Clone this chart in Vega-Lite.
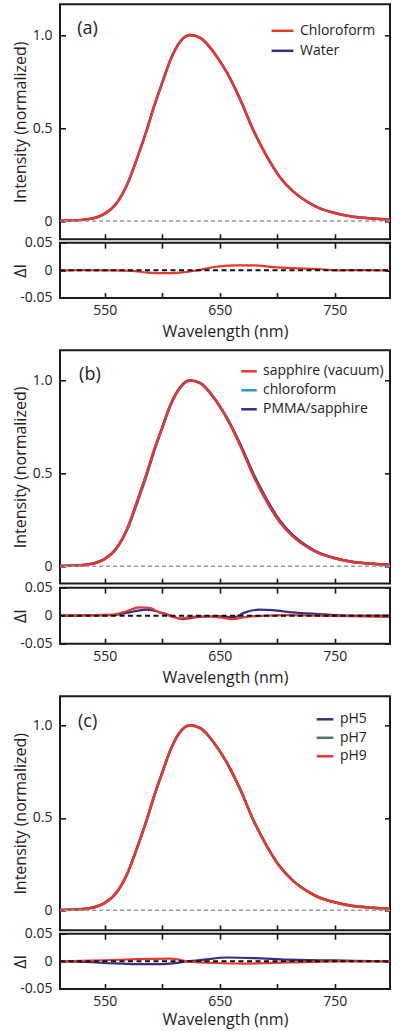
{
"$schema": "https://vega.github.io/schema/vega-lite/v6.json",
"padding": {"left": 11, "top": 3.3, "right": 4, "bottom": 2},
"config": {
  "font": "Open Sans",
  "view": {"stroke": "#1a1a1a", "strokeWidth": 2},
  "axis": {"domain": false, "grid": false, "tickColor": "#1a1a1a", "tickWidth": 1.6, "tickSize": 5.5, "offset": -5.5, "labelFontSize": 14, "labelColor": "#222", "titleFontSize": 16, "titleFontWeight": "normal", "titleColor": "#222", "labelPadding": 8},
  "legend": {"labelFontSize": 14, "labelColor": "#222", "symbolType": "stroke", "symbolStrokeWidth": 2.5, "rowPadding": 0, "padding": 0, "labelOffset": 5}
},
"resolve": {"scale": {"color": "independent"}, "legend": {"color": "independent"}},
"datasets": {
  "one": [{}],
  "mainA": [
    {"wl":510,"I":0.002,"s":"Water"},{"wl":520,"I":0.003,"s":"Water"},{"wl":530,"I":0.006,"s":"Water"},{"wl":540,"I":0.015,"s":"Water"},{"wl":550,"I":0.04,"s":"Water"},{"wl":560,"I":0.095,"s":"Water"},{"wl":570,"I":0.205,"s":"Water"},{"wl":578,"I":0.337,"s":"Water"},{"wl":587,"I":0.5,"s":"Water"},{"wl":593,"I":0.62,"s":"Water"},{"wl":600,"I":0.745,"s":"Water"},{"wl":607,"I":0.866,"s":"Water"},{"wl":615,"I":0.96,"s":"Water"},{"wl":624,"I":1.0,"s":"Water"},{"wl":633,"I":0.985,"s":"Water"},{"wl":645,"I":0.905,"s":"Water"},{"wl":656,"I":0.8,"s":"Water"},{"wl":668,"I":0.65,"s":"Water"},{"wl":679,"I":0.49,"s":"Water"},{"wl":691,"I":0.346,"s":"Water"},{"wl":702,"I":0.238,"s":"Water"},{"wl":714,"I":0.158,"s":"Water"},{"wl":726,"I":0.104,"s":"Water"},{"wl":737,"I":0.068,"s":"Water"},{"wl":749,"I":0.045,"s":"Water"},{"wl":766,"I":0.023,"s":"Water"},{"wl":783,"I":0.014,"s":"Water"},{"wl":798,"I":0.009,"s":"Water"},
    {"wl":510,"I":0.002,"s":"Chloroform"},{"wl":520,"I":0.003,"s":"Chloroform"},{"wl":530,"I":0.006,"s":"Chloroform"},{"wl":540,"I":0.015,"s":"Chloroform"},{"wl":550,"I":0.04,"s":"Chloroform"},{"wl":560,"I":0.095,"s":"Chloroform"},{"wl":570,"I":0.205,"s":"Chloroform"},{"wl":578,"I":0.337,"s":"Chloroform"},{"wl":587,"I":0.5,"s":"Chloroform"},{"wl":593,"I":0.62,"s":"Chloroform"},{"wl":600,"I":0.745,"s":"Chloroform"},{"wl":607,"I":0.866,"s":"Chloroform"},{"wl":615,"I":0.96,"s":"Chloroform"},{"wl":624,"I":1.0,"s":"Chloroform"},{"wl":633,"I":0.985,"s":"Chloroform"},{"wl":645,"I":0.905,"s":"Chloroform"},{"wl":656,"I":0.8,"s":"Chloroform"},{"wl":668,"I":0.65,"s":"Chloroform"},{"wl":679,"I":0.49,"s":"Chloroform"},{"wl":691,"I":0.346,"s":"Chloroform"},{"wl":702,"I":0.238,"s":"Chloroform"},{"wl":714,"I":0.158,"s":"Chloroform"},{"wl":726,"I":0.104,"s":"Chloroform"},{"wl":737,"I":0.068,"s":"Chloroform"},{"wl":749,"I":0.045,"s":"Chloroform"},{"wl":766,"I":0.023,"s":"Chloroform"},{"wl":783,"I":0.014,"s":"Chloroform"},{"wl":798,"I":0.009,"s":"Chloroform"}
  ],
  "resA": [
    {"wl":511,"d":0.0,"s":"Chloroform"},{"wl":530,"d":0.0005,"s":"Chloroform"},{"wl":550,"d":0.0,"s":"Chloroform"},{"wl":573,"d":-0.001,"s":"Chloroform"},{"wl":587,"d":-0.004,"s":"Chloroform"},{"wl":601,"d":-0.005,"s":"Chloroform"},{"wl":616,"d":-0.004,"s":"Chloroform"},{"wl":630,"d":0.0,"s":"Chloroform"},{"wl":645,"d":0.006,"s":"Chloroform"},{"wl":662,"d":0.009,"s":"Chloroform"},{"wl":680,"d":0.009,"s":"Chloroform"},{"wl":697,"d":0.006,"s":"Chloroform"},{"wl":714,"d":0.004,"s":"Chloroform"},{"wl":738,"d":0.002,"s":"Chloroform"},{"wl":752,"d":0.0,"s":"Chloroform"},{"wl":775,"d":0.0005,"s":"Chloroform"},{"wl":796,"d":0.0,"s":"Chloroform"}
  ],
  "mainB": [
    {"wl":510,"I":0.002,"s":"chloroform"},{"wl":520,"I":0.003,"s":"chloroform"},{"wl":530,"I":0.006,"s":"chloroform"},{"wl":540,"I":0.015,"s":"chloroform"},{"wl":550,"I":0.04,"s":"chloroform"},{"wl":560,"I":0.095,"s":"chloroform"},{"wl":570,"I":0.205,"s":"chloroform"},{"wl":578,"I":0.337,"s":"chloroform"},{"wl":587,"I":0.5,"s":"chloroform"},{"wl":593,"I":0.62,"s":"chloroform"},{"wl":600,"I":0.745,"s":"chloroform"},{"wl":607,"I":0.866,"s":"chloroform"},{"wl":615,"I":0.96,"s":"chloroform"},{"wl":624,"I":1.0,"s":"chloroform"},{"wl":633,"I":0.985,"s":"chloroform"},{"wl":645,"I":0.905,"s":"chloroform"},{"wl":656,"I":0.8,"s":"chloroform"},{"wl":668,"I":0.65,"s":"chloroform"},{"wl":679,"I":0.49,"s":"chloroform"},{"wl":691,"I":0.346,"s":"chloroform"},{"wl":702,"I":0.238,"s":"chloroform"},{"wl":714,"I":0.158,"s":"chloroform"},{"wl":726,"I":0.104,"s":"chloroform"},{"wl":737,"I":0.068,"s":"chloroform"},{"wl":749,"I":0.045,"s":"chloroform"},{"wl":766,"I":0.023,"s":"chloroform"},{"wl":783,"I":0.014,"s":"chloroform"},{"wl":798,"I":0.009,"s":"chloroform"},
    {"wl":510,"I":0.002,"s":"PMMA/sapphire"},{"wl":520,"I":0.003,"s":"PMMA/sapphire"},{"wl":530,"I":0.006,"s":"PMMA/sapphire"},{"wl":540,"I":0.015,"s":"PMMA/sapphire"},{"wl":550,"I":0.04,"s":"PMMA/sapphire"},{"wl":560,"I":0.096,"s":"PMMA/sapphire"},{"wl":570,"I":0.21,"s":"PMMA/sapphire"},{"wl":578,"I":0.347,"s":"PMMA/sapphire"},{"wl":587,"I":0.51,"s":"PMMA/sapphire"},{"wl":593,"I":0.626,"s":"PMMA/sapphire"},{"wl":600,"I":0.747,"s":"PMMA/sapphire"},{"wl":607,"I":0.866,"s":"PMMA/sapphire"},{"wl":615,"I":0.956,"s":"PMMA/sapphire"},{"wl":624,"I":0.998,"s":"PMMA/sapphire"},{"wl":633,"I":0.984,"s":"PMMA/sapphire"},{"wl":645,"I":0.904,"s":"PMMA/sapphire"},{"wl":656,"I":0.798,"s":"PMMA/sapphire"},{"wl":668,"I":0.653,"s":"PMMA/sapphire"},{"wl":679,"I":0.5,"s":"PMMA/sapphire"},{"wl":691,"I":0.357,"s":"PMMA/sapphire"},{"wl":702,"I":0.247,"s":"PMMA/sapphire"},{"wl":714,"I":0.164,"s":"PMMA/sapphire"},{"wl":726,"I":0.108,"s":"PMMA/sapphire"},{"wl":737,"I":0.071,"s":"PMMA/sapphire"},{"wl":749,"I":0.046,"s":"PMMA/sapphire"},{"wl":766,"I":0.023,"s":"PMMA/sapphire"},{"wl":783,"I":0.014,"s":"PMMA/sapphire"},{"wl":798,"I":0.009,"s":"PMMA/sapphire"},
    {"wl":510,"I":0.002,"s":"sapphire (vacuum)"},{"wl":520,"I":0.003,"s":"sapphire (vacuum)"},{"wl":530,"I":0.006,"s":"sapphire (vacuum)"},{"wl":540,"I":0.015,"s":"sapphire (vacuum)"},{"wl":550,"I":0.04,"s":"sapphire (vacuum)"},{"wl":560,"I":0.096,"s":"sapphire (vacuum)"},{"wl":570,"I":0.21,"s":"sapphire (vacuum)"},{"wl":578,"I":0.348,"s":"sapphire (vacuum)"},{"wl":587,"I":0.512,"s":"sapphire (vacuum)"},{"wl":593,"I":0.628,"s":"sapphire (vacuum)"},{"wl":600,"I":0.748,"s":"sapphire (vacuum)"},{"wl":607,"I":0.866,"s":"sapphire (vacuum)"},{"wl":615,"I":0.956,"s":"sapphire (vacuum)"},{"wl":624,"I":0.998,"s":"sapphire (vacuum)"},{"wl":633,"I":0.984,"s":"sapphire (vacuum)"},{"wl":645,"I":0.904,"s":"sapphire (vacuum)"},{"wl":656,"I":0.796,"s":"sapphire (vacuum)"},{"wl":668,"I":0.646,"s":"sapphire (vacuum)"},{"wl":679,"I":0.49,"s":"sapphire (vacuum)"},{"wl":691,"I":0.346,"s":"sapphire (vacuum)"},{"wl":702,"I":0.239,"s":"sapphire (vacuum)"},{"wl":714,"I":0.158,"s":"sapphire (vacuum)"},{"wl":726,"I":0.104,"s":"sapphire (vacuum)"},{"wl":737,"I":0.068,"s":"sapphire (vacuum)"},{"wl":749,"I":0.045,"s":"sapphire (vacuum)"},{"wl":766,"I":0.023,"s":"sapphire (vacuum)"},{"wl":783,"I":0.013,"s":"sapphire (vacuum)"},{"wl":798,"I":0.008,"s":"sapphire (vacuum)"}
  ],
  "resB": [
    {"wl":511,"d":0.0,"s":"PMMA/sapphire"},{"wl":535,"d":0.0005,"s":"PMMA/sapphire"},{"wl":557,"d":0.001,"s":"PMMA/sapphire"},{"wl":571,"d":0.006,"s":"PMMA/sapphire"},{"wl":586,"d":0.011,"s":"PMMA/sapphire"},{"wl":595,"d":0.008,"s":"PMMA/sapphire"},{"wl":606,"d":0.001,"s":"PMMA/sapphire"},{"wl":618,"d":-0.006,"s":"PMMA/sapphire"},{"wl":632,"d":-0.002,"s":"PMMA/sapphire"},{"wl":650,"d":-0.001,"s":"PMMA/sapphire"},{"wl":662,"d":-0.003,"s":"PMMA/sapphire"},{"wl":671,"d":0.005,"s":"PMMA/sapphire"},{"wl":684,"d":0.011,"s":"PMMA/sapphire"},{"wl":696,"d":0.01,"s":"PMMA/sapphire"},{"wl":713,"d":0.006,"s":"PMMA/sapphire"},{"wl":736,"d":0.003,"s":"PMMA/sapphire"},{"wl":765,"d":0.0,"s":"PMMA/sapphire"},{"wl":797,"d":0.0,"s":"PMMA/sapphire"},
    {"wl":511,"d":0.0,"s":"sapphire (vacuum)"},{"wl":534,"d":0.001,"s":"sapphire (vacuum)"},{"wl":557,"d":0.002,"s":"sapphire (vacuum)"},{"wl":569,"d":0.008,"s":"sapphire (vacuum)"},{"wl":580,"d":0.015,"s":"sapphire (vacuum)"},{"wl":589,"d":0.014,"s":"sapphire (vacuum)"},{"wl":597,"d":0.006,"s":"sapphire (vacuum)"},{"wl":606,"d":0.0,"s":"sapphire (vacuum)"},{"wl":615,"d":-0.005,"s":"sapphire (vacuum)"},{"wl":626,"d":-0.002,"s":"sapphire (vacuum)"},{"wl":638,"d":-0.001,"s":"sapphire (vacuum)"},{"wl":650,"d":-0.003,"s":"sapphire (vacuum)"},{"wl":661,"d":-0.006,"s":"sapphire (vacuum)"},{"wl":673,"d":-0.002,"s":"sapphire (vacuum)"},{"wl":690,"d":0.0,"s":"sapphire (vacuum)"},{"wl":707,"d":0.001,"s":"sapphire (vacuum)"},{"wl":736,"d":0.0,"s":"sapphire (vacuum)"},{"wl":765,"d":-0.001,"s":"sapphire (vacuum)"},{"wl":797,"d":-0.002,"s":"sapphire (vacuum)"}
  ],
  "mainC": [
    {"wl":510,"I":0.002,"s":"pH5"},{"wl":520,"I":0.003,"s":"pH5"},{"wl":530,"I":0.006,"s":"pH5"},{"wl":540,"I":0.015,"s":"pH5"},{"wl":550,"I":0.04,"s":"pH5"},{"wl":560,"I":0.095,"s":"pH5"},{"wl":570,"I":0.205,"s":"pH5"},{"wl":578,"I":0.337,"s":"pH5"},{"wl":587,"I":0.5,"s":"pH5"},{"wl":593,"I":0.62,"s":"pH5"},{"wl":600,"I":0.745,"s":"pH5"},{"wl":607,"I":0.866,"s":"pH5"},{"wl":615,"I":0.96,"s":"pH5"},{"wl":624,"I":1.0,"s":"pH5"},{"wl":633,"I":0.985,"s":"pH5"},{"wl":645,"I":0.905,"s":"pH5"},{"wl":656,"I":0.8,"s":"pH5"},{"wl":668,"I":0.65,"s":"pH5"},{"wl":679,"I":0.49,"s":"pH5"},{"wl":691,"I":0.346,"s":"pH5"},{"wl":702,"I":0.238,"s":"pH5"},{"wl":714,"I":0.158,"s":"pH5"},{"wl":726,"I":0.104,"s":"pH5"},{"wl":737,"I":0.068,"s":"pH5"},{"wl":749,"I":0.045,"s":"pH5"},{"wl":766,"I":0.023,"s":"pH5"},{"wl":783,"I":0.014,"s":"pH5"},{"wl":798,"I":0.009,"s":"pH5"},
    {"wl":510,"I":0.002,"s":"pH7"},{"wl":520,"I":0.003,"s":"pH7"},{"wl":530,"I":0.006,"s":"pH7"},{"wl":540,"I":0.015,"s":"pH7"},{"wl":550,"I":0.04,"s":"pH7"},{"wl":560,"I":0.095,"s":"pH7"},{"wl":570,"I":0.205,"s":"pH7"},{"wl":578,"I":0.337,"s":"pH7"},{"wl":587,"I":0.5,"s":"pH7"},{"wl":593,"I":0.62,"s":"pH7"},{"wl":600,"I":0.745,"s":"pH7"},{"wl":607,"I":0.866,"s":"pH7"},{"wl":615,"I":0.96,"s":"pH7"},{"wl":624,"I":1.0,"s":"pH7"},{"wl":633,"I":0.985,"s":"pH7"},{"wl":645,"I":0.905,"s":"pH7"},{"wl":656,"I":0.8,"s":"pH7"},{"wl":668,"I":0.65,"s":"pH7"},{"wl":679,"I":0.49,"s":"pH7"},{"wl":691,"I":0.346,"s":"pH7"},{"wl":702,"I":0.238,"s":"pH7"},{"wl":714,"I":0.158,"s":"pH7"},{"wl":726,"I":0.104,"s":"pH7"},{"wl":737,"I":0.068,"s":"pH7"},{"wl":749,"I":0.045,"s":"pH7"},{"wl":766,"I":0.023,"s":"pH7"},{"wl":783,"I":0.014,"s":"pH7"},{"wl":798,"I":0.009,"s":"pH7"},
    {"wl":510,"I":0.002,"s":"pH9"},{"wl":520,"I":0.003,"s":"pH9"},{"wl":530,"I":0.006,"s":"pH9"},{"wl":540,"I":0.015,"s":"pH9"},{"wl":550,"I":0.04,"s":"pH9"},{"wl":560,"I":0.095,"s":"pH9"},{"wl":570,"I":0.205,"s":"pH9"},{"wl":578,"I":0.337,"s":"pH9"},{"wl":587,"I":0.5,"s":"pH9"},{"wl":593,"I":0.62,"s":"pH9"},{"wl":600,"I":0.745,"s":"pH9"},{"wl":607,"I":0.866,"s":"pH9"},{"wl":615,"I":0.96,"s":"pH9"},{"wl":624,"I":1.0,"s":"pH9"},{"wl":633,"I":0.985,"s":"pH9"},{"wl":645,"I":0.905,"s":"pH9"},{"wl":656,"I":0.8,"s":"pH9"},{"wl":668,"I":0.65,"s":"pH9"},{"wl":679,"I":0.49,"s":"pH9"},{"wl":691,"I":0.346,"s":"pH9"},{"wl":702,"I":0.238,"s":"pH9"},{"wl":714,"I":0.158,"s":"pH9"},{"wl":726,"I":0.104,"s":"pH9"},{"wl":737,"I":0.068,"s":"pH9"},{"wl":749,"I":0.045,"s":"pH9"},{"wl":766,"I":0.023,"s":"pH9"},{"wl":783,"I":0.014,"s":"pH9"},{"wl":798,"I":0.009,"s":"pH9"}
  ],
  "resC": [
    {"wl":511,"d":0.0,"s":"pH5"},{"wl":535,"d":-0.001,"s":"pH5"},{"wl":549,"d":-0.003,"s":"pH5"},{"wl":565,"d":-0.004,"s":"pH5"},{"wl":578,"d":-0.005,"s":"pH5"},{"wl":595,"d":-0.005,"s":"pH5"},{"wl":607,"d":-0.004,"s":"pH5"},{"wl":622,"d":0.0,"s":"pH5"},{"wl":636,"d":0.003,"s":"pH5"},{"wl":656,"d":0.007,"s":"pH5"},{"wl":680,"d":0.006,"s":"pH5"},{"wl":709,"d":0.003,"s":"pH5"},{"wl":738,"d":0.002,"s":"pH5"},{"wl":767,"d":0.001,"s":"pH5"},{"wl":798,"d":0.0,"s":"pH5"},
    {"wl":511,"d":0.0,"s":"pH9"},{"wl":530,"d":0.001,"s":"pH9"},{"wl":549,"d":0.002,"s":"pH9"},{"wl":578,"d":0.004,"s":"pH9"},{"wl":607,"d":0.005,"s":"pH9"},{"wl":622,"d":0.0,"s":"pH9"},{"wl":645,"d":-0.003,"s":"pH9"},{"wl":674,"d":-0.004,"s":"pH9"},{"wl":709,"d":-0.002,"s":"pH9"},{"wl":752,"d":0.0,"s":"pH9"},{"wl":798,"d":0.0,"s":"pH9"}
  ]
},
"spacing": 8,
"vconcat": [
  {"bounds": "flush", "spacing": 3.4, "resolve": {"scale": {"color": "independent"}, "legend": {"color": "independent"}}, "vconcat": [
    {"width": 330, "height": 235,
     "resolve": {"axis": {"x": "independent", "y": "independent"}},
     "layer": [
      {"data": {"name": "mainA"},
       "mark": {"type": "line", "interpolate": "monotone", "strokeWidth": 2.5, "clip": true},
       "encoding": {
        "x": {"field": "wl", "type": "quantitative", "scale": {"domain": [511, 798], "nice": false, "zero": false}, "axis": {"orient": "bottom", "values": [550, 600, 650, 700, 750], "labels": false, "title": null}},
        "y": {"field": "I", "type": "quantitative", "scale": {"domain": [-0.098, 1.165], "nice": false}, "axis": {"orient": "left", "values": [0, 0.5, 1], "labelExpr": "datum.value == 0 ? '0' : format(datum.value, '.1f')", "title": "Intensity (normalized)", "minExtent": 33, "maxExtent": 33, "titlePadding": 4}},
        "color": {"field": "s", "type": "nominal", "scale": {"domain": ["Chloroform", "Water"], "range": ["#e5392f", "#3a2c82"]}, "legend": {"orient": "top-right", "title": null, "offset": 14, "symbolSize": 480}}
       }},
      {"data": {"name": "one"},
       "mark": {"type": "rule", "color": "#9a9a9a", "strokeWidth": 1.6, "strokeDash": [4, 3]},
       "encoding": {"y": {"datum": 0, "type": "quantitative", "axis": {"orient": "right", "values": [0, 0.5, 1], "labels": false, "title": null}}}},
      {"data": {"name": "one"},
       "mark": {"type": "text", "fontSize": 18, "align": "center", "baseline": "middle", "color": "#222"},
       "encoding": {"x": {"datum": 535, "type": "quantitative", "axis": null}, "y": {"datum": 1.034, "type": "quantitative", "axis": null}, "text": {"value": "(a)"}}}
     ]},
    {"width": 330, "height": 55.3,
     "resolve": {"axis": {"x": "independent", "y": "independent"}},
     "layer": [
      {"data": {"name": "resA"},
       "mark": {"type": "line", "interpolate": "monotone", "strokeWidth": 2.2, "clip": true},
       "encoding": {
        "x": {"field": "wl", "type": "quantitative", "scale": {"domain": [511, 798], "nice": false, "zero": false}, "axis": {"orient": "bottom", "values": [550, 600, 650, 700, 750], "labelExpr": "datum.value % 100 == 50 ? datum.label : ''", "labelPadding": 6, "title": "Wavelength (nm)", "titlePadding": 6}},
        "y": {"field": "d", "type": "quantitative", "scale": {"domain": [-0.05, 0.05], "nice": false}, "axis": {"orient": "left", "values": [-0.05, 0, 0.05], "labelExpr": "datum.value == 0 ? '0' : (datum.value > 0 ? '0.05' : '-0.05')", "title": "ΔI", "minExtent": 33, "maxExtent": 33, "titlePadding": 4}},
        "color": {"field": "s", "type": "nominal", "scale": {"domain": ["Chloroform", "Water"], "range": ["#e5392f", "#3a2c82"]}, "legend": null}
       }},
      {"data": {"name": "one"},
       "mark": {"type": "rule", "color": "#111", "strokeWidth": 2, "strokeDash": [5, 3.5]},
       "encoding": {"y": {"datum": 0, "type": "quantitative", "axis": {"orient": "right", "values": [-0.05, 0, 0.05], "labels": false, "title": null}},
        "x": {"datum": 511, "type": "quantitative", "axis": {"orient": "top", "values": [550, 600, 650, 700, 750], "labels": false, "title": null}},
        "x2": {"datum": 798}}}
     ]}
  ]},
  {"bounds": "flush", "spacing": 3.4, "resolve": {"scale": {"color": "independent"}, "legend": {"color": "independent"}}, "vconcat": [
    {"width": 330, "height": 233.3,
     "resolve": {"axis": {"x": "independent", "y": "independent"}},
     "layer": [
      {"data": {"name": "mainB"},
       "mark": {"type": "line", "interpolate": "monotone", "strokeWidth": 2.5, "clip": true},
       "encoding": {
        "x": {"field": "wl", "type": "quantitative", "scale": {"domain": [511, 798], "nice": false, "zero": false}, "axis": {"orient": "bottom", "values": [550, 600, 650, 700, 750], "labels": false, "title": null}},
        "y": {"field": "I", "type": "quantitative", "scale": {"domain": [-0.093, 1.161], "nice": false}, "axis": {"orient": "left", "values": [0, 0.5, 1], "labelExpr": "datum.value == 0 ? '0' : format(datum.value, '.1f')", "title": "Intensity (normalized)", "minExtent": 33, "maxExtent": 33, "titlePadding": 4}},
        "color": {"field": "s", "type": "nominal", "scale": {"domain": ["sapphire (vacuum)", "chloroform", "PMMA/sapphire"], "range": ["#e5392f", "#2b9cc0", "#3a2c82"]}, "legend": {"orient": "none", "legendX": 180, "legendY": 12, "rowPadding": 3, "title": null, "symbolSize": 240}}
       }},
      {"data": {"name": "one"},
       "mark": {"type": "rule", "color": "#9a9a9a", "strokeWidth": 1.6, "strokeDash": [4, 3]},
       "encoding": {"y": {"datum": 0, "type": "quantitative", "axis": {"orient": "right", "values": [0, 0.5, 1], "labels": false, "title": null}}}},
      {"data": {"name": "one"},
       "mark": {"type": "text", "fontSize": 18, "align": "center", "baseline": "middle", "color": "#222"},
       "encoding": {"x": {"datum": 537, "type": "quantitative", "axis": null}, "y": {"datum": 1.03, "type": "quantitative", "axis": null}, "text": {"value": "(b)"}}}
     ]},
    {"width": 330, "height": 56,
     "resolve": {"axis": {"x": "independent", "y": "independent"}},
     "layer": [
      {"data": {"name": "resB"},
       "mark": {"type": "line", "interpolate": "monotone", "strokeWidth": 2.2, "clip": true},
       "encoding": {
        "x": {"field": "wl", "type": "quantitative", "scale": {"domain": [511, 798], "nice": false, "zero": false}, "axis": {"orient": "bottom", "values": [550, 600, 650, 700, 750], "labelExpr": "datum.value % 100 == 50 ? datum.label : ''", "labelPadding": 6, "title": "Wavelength (nm)", "titlePadding": 6}},
        "y": {"field": "d", "type": "quantitative", "scale": {"domain": [-0.05, 0.05], "nice": false}, "axis": {"orient": "left", "values": [-0.05, 0, 0.05], "labelExpr": "datum.value == 0 ? '0' : (datum.value > 0 ? '0.05' : '-0.05')", "title": "ΔI", "minExtent": 33, "maxExtent": 33, "titlePadding": 4}},
        "color": {"field": "s", "type": "nominal", "scale": {"domain": ["sapphire (vacuum)", "chloroform", "PMMA/sapphire"], "range": ["#e5392f", "#2b9cc0", "#3a2c82"]}, "legend": null}
       }},
      {"data": {"name": "one"},
       "mark": {"type": "rule", "color": "#111", "strokeWidth": 2, "strokeDash": [5, 3.5]},
       "encoding": {"y": {"datum": 0, "type": "quantitative", "axis": {"orient": "right", "values": [-0.05, 0, 0.05], "labels": false, "title": null}},
        "x": {"datum": 511, "type": "quantitative", "axis": {"orient": "top", "values": [550, 600, 650, 700, 750], "labels": false, "title": null}},
        "x2": {"datum": 798}}}
     ]}
  ]},
  {"bounds": "flush", "spacing": 3.4, "resolve": {"scale": {"color": "independent"}, "legend": {"color": "independent"}}, "vconcat": [
    {"width": 330, "height": 234,
     "resolve": {"axis": {"x": "independent", "y": "independent"}},
     "layer": [
      {"data": {"name": "mainC"},
       "mark": {"type": "line", "interpolate": "monotone", "strokeWidth": 2.5, "clip": true},
       "encoding": {
        "x": {"field": "wl", "type": "quantitative", "scale": {"domain": [511, 798], "nice": false, "zero": false}, "axis": {"orient": "bottom", "values": [550, 600, 650, 700, 750], "labels": false, "title": null}},
        "y": {"field": "I", "type": "quantitative", "scale": {"domain": [-0.108, 1.157], "nice": false}, "axis": {"orient": "left", "values": [0, 0.5, 1], "labelExpr": "datum.value == 0 ? '0' : format(datum.value, '.1f')", "title": "Intensity (normalized)", "minExtent": 33, "maxExtent": 33, "titlePadding": 4}},
        "color": {"field": "s", "type": "nominal", "scale": {"domain": ["pH5", "pH7", "pH9"], "range": ["#3a2c82", "#4b7a52", "#e5392f"]}, "legend": {"orient": "none", "legendX": 255, "legendY": 13, "rowPadding": 1.5, "title": null, "symbolSize": 280}}
       }},
      {"data": {"name": "one"},
       "mark": {"type": "rule", "color": "#9a9a9a", "strokeWidth": 1.6, "strokeDash": [4, 3]},
       "encoding": {"y": {"datum": 0, "type": "quantitative", "axis": {"orient": "right", "values": [0, 0.5, 1], "labels": false, "title": null}}}},
      {"data": {"name": "one"},
       "mark": {"type": "text", "fontSize": 18, "align": "center", "baseline": "middle", "color": "#222"},
       "encoding": {"x": {"datum": 535, "type": "quantitative", "axis": null}, "y": {"datum": 1.02, "type": "quantitative", "axis": null}, "text": {"value": "(c)"}}}
     ]},
    {"width": 330, "height": 55.3,
     "resolve": {"axis": {"x": "independent", "y": "independent"}},
     "layer": [
      {"data": {"name": "resC"},
       "mark": {"type": "line", "interpolate": "monotone", "strokeWidth": 2.2, "clip": true},
       "encoding": {
        "x": {"field": "wl", "type": "quantitative", "scale": {"domain": [511, 798], "nice": false, "zero": false}, "axis": {"orient": "bottom", "values": [550, 600, 650, 700, 750], "labelExpr": "datum.value % 100 == 50 ? datum.label : ''", "labelPadding": 6, "title": "Wavelength (nm)", "titlePadding": 3}},
        "y": {"field": "d", "type": "quantitative", "scale": {"domain": [-0.05, 0.05], "nice": false}, "axis": {"orient": "left", "values": [-0.05, 0, 0.05], "labelExpr": "datum.value == 0 ? '0' : (datum.value > 0 ? '0.05' : '-0.05')", "title": "ΔI", "minExtent": 33, "maxExtent": 33, "titlePadding": 4}},
        "color": {"field": "s", "type": "nominal", "scale": {"domain": ["pH5", "pH7", "pH9"], "range": ["#3a2c82", "#4b7a52", "#e5392f"]}, "legend": null}
       }},
      {"data": {"name": "one"},
       "mark": {"type": "rule", "color": "#111", "strokeWidth": 2, "strokeDash": [5, 3.5]},
       "encoding": {"y": {"datum": 0, "type": "quantitative", "axis": {"orient": "right", "values": [-0.05, 0, 0.05], "labels": false, "title": null}},
        "x": {"datum": 511, "type": "quantitative", "axis": {"orient": "top", "values": [550, 600, 650, 700, 750], "labels": false, "title": null}},
        "x2": {"datum": 798}}}
     ]}
  ]}
]
}
